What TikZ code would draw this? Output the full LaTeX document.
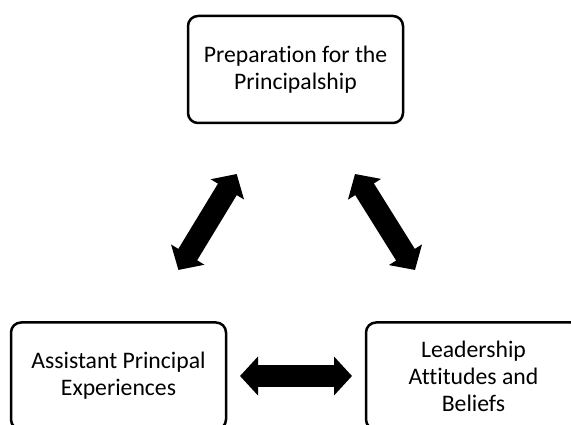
\documentclass[tikz,border=0pt]{standalone}
\usepackage{fontspec}
\setmainfont{Carlito}[Ligatures=NoCommon]
\usetikzlibrary{arrows.meta}
\begin{document}
\begin{tikzpicture}[x=1pt,y=1pt,
  box/.style={draw=black, line width=2.5pt, rounded corners=10pt, fill=white,
    minimum width=215pt, minimum height=107pt, inner sep=0pt},
  lbl/.style={align=center, font=\fontsize{23.7pt}{27pt}\selectfont, inner sep=0pt},
  dbl/.style={line width=22pt, {Triangle[length=18pt,width=38pt]}-{Triangle[length=18pt,width=38pt]}}]
\useasboundingbox (0,0) rectangle (571,425);
\clip (0,0) rectangle (571,425);
\node[box] (prep) at (295.5,355.5) {};
\node[lbl] (preptxt) at (prep.center) {Preparation for the\\Principalship};
\node[box] (ap) at (118.5,49) {};
\node[lbl] (aptxt) at (ap.center) {Assistant Principal\\Experiences};
\node[box] (lab) at (473.5,49) {};
\node[lbl] (labtxt) at (lab.center) {Leadership\\Attitudes and\\Beliefs};
\coordinate (l1) at (178.4,155);
\coordinate (l2) at (236.7,251);
\coordinate (r1) at (355,251);
\coordinate (r2) at (415,155);
\coordinate (h1) at (240,49);
\coordinate (h2) at (352,49);
\draw[dbl] (l1) -- (l2);
\draw[dbl] (r1) -- (r2);
\draw[dbl] (h1) -- (h2);
\end{tikzpicture}
\end{document}
